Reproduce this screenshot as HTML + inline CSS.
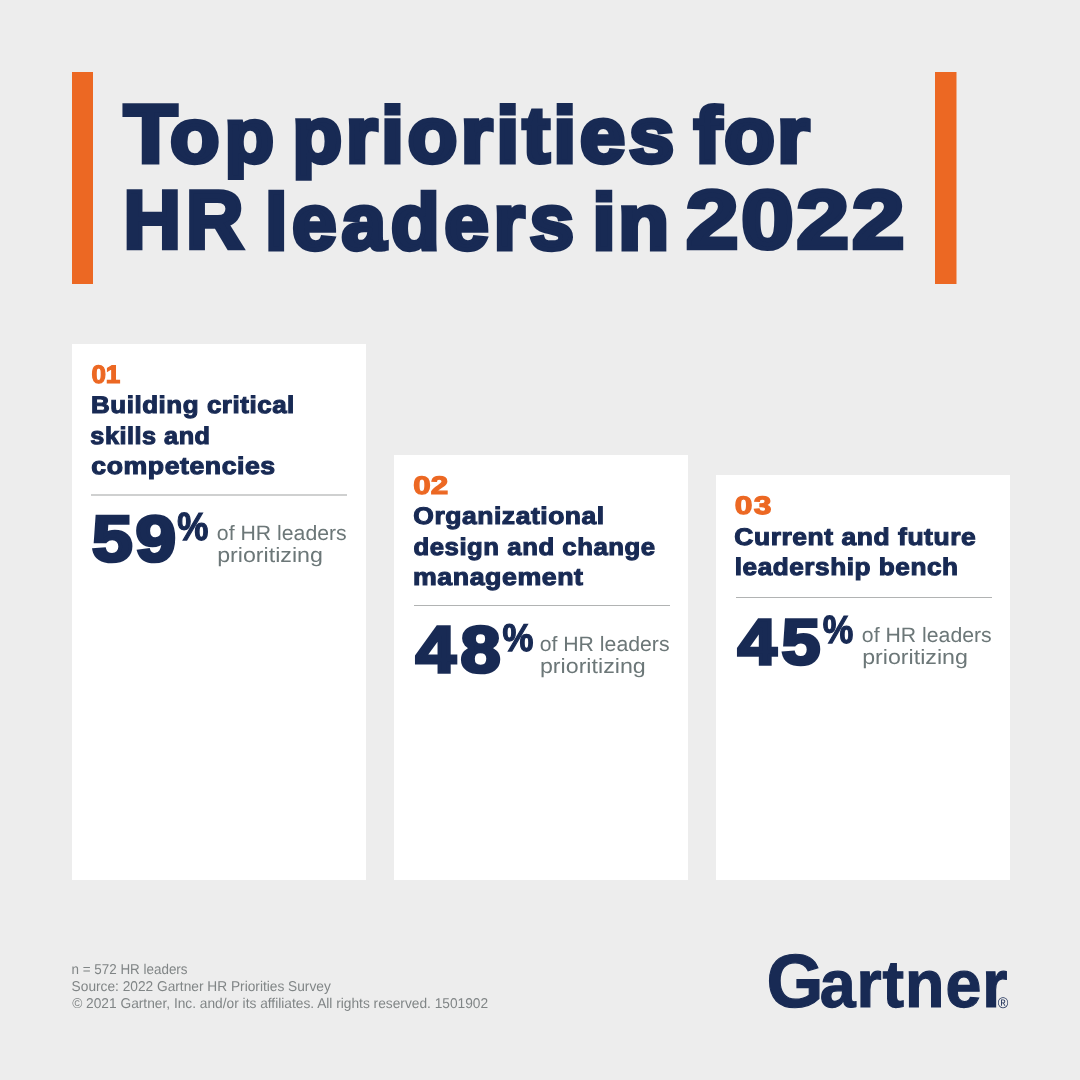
<!DOCTYPE html>
<html lang="en">
<head>
<meta charset="utf-8">
<title>Top priorities for HR leaders in 2022</title>
<style>
html,body{margin:0;padding:0;}
body{width:1080px;height:1080px;background:#ededed;position:relative;overflow:hidden;font-family:"Liberation Sans",sans-serif;}
h1,h2,p{margin:0;font-size:inherit;font-weight:inherit;}
.t{position:absolute;white-space:nowrap;line-height:1;transform-origin:0 0;font-family:"Liberation Sans",sans-serif;text-rendering:geometricPrecision;}
#t1w0::first-letter{font-size:82.01px;line-height:0;letter-spacing:-6.56px;}
#lg::first-letter{font-size:75.53px;line-height:0;letter-spacing:-3.89px;}
.bar{position:absolute;background:#ec6823;top:72px;height:212px;width:21px;}
.card{position:absolute;background:#fff;width:294px;}
.rule{position:absolute;height:1px;background:#b1b3b3;width:256px;}
</style>
</head>
<body>
<div class="bar" style="left:72px"></div>
<div class="bar" style="left:935px;width:22px;background:linear-gradient(to right,#ec6823 0,#ec6823 21px,#edab88 21px,#edab88 22px)"></div>
<header><h1><span id="t1w0" class="t" style="left:124px;top:99px;font-weight:700;font-size:75.72px;color:#182a54;transform:translate(0.06px,0.02px) scaleX(1.0602);-webkit-text-stroke:4.8px #182a54;letter-spacing:5.20px;">Top</span> <span id="t1w1" class="t" style="left:292px;top:95px;font-weight:700;font-size:78.27px;color:#182a54;transform:translate(0.57px,0.85px) scaleX(1.0355);-webkit-text-stroke:4.8px #182a54;letter-spacing:3.72px;">priorities</span> <span id="t1w2" class="t" style="left:694px;top:95px;font-weight:700;font-size:78.27px;color:#182a54;transform:translate(0.12px,0.85px) scaleX(1.0568);-webkit-text-stroke:4.8px #182a54;letter-spacing:2.46px;">for</span> <span id="t2w0" class="t" style="left:123px;top:180px;font-weight:700;font-size:82.22px;color:#182a54;transform:translate(0.55px,0.43px) scaleX(0.9673);-webkit-text-stroke:4.5px #182a54;letter-spacing:5.20px;">HR</span> <span id="t2w1" class="t" style="left:265px;top:182px;font-weight:700;font-size:78.33px;color:#182a54;transform:translate(0.18px,0.75px) scaleX(1.0128);-webkit-text-stroke:4.8px #182a54;letter-spacing:5.08px;">leaders</span> <span id="t2w2" class="t" style="left:592px;top:182px;font-weight:700;font-size:78.33px;color:#182a54;transform:translate(0.53px,0.75px) scaleX(1.0598);-webkit-text-stroke:4.8px #182a54;letter-spacing:2.47px;">in</span> <span id="t2w3" class="t" style="left:685px;top:179px;font-weight:700;font-size:82.50px;color:#182a54;transform:translate(0.90px,0.19px) scaleX(1.1425);-webkit-text-stroke:4.5px #182a54;letter-spacing:2.55px;">2022</span></h1></header>
<main>
<section class="card" id="card1" style="left:72px;top:344px;height:536px">
<div id="c1n" class="t" style="left:19px;top:19px;font-weight:700;font-size:25.39px;color:#ec6823;transform:translate(0.55px,0.18px) scaleX(1.0255);-webkit-text-stroke:1.2px #ec6823;letter-spacing:-0.36px;">01</div>
<h2><span id="c1h1" class="t" style="left:19px;top:50px;font-weight:700;font-size:24.07px;color:#182a54;transform:translate(0.07px,0.00px) scaleX(1.0782);-webkit-text-stroke:1.1px #182a54;letter-spacing:0.5px;">Building critical</span> <span id="c1h2" class="t" style="left:18px;top:80px;font-weight:700;font-size:24.07px;color:#182a54;transform:translate(0.33px,0.90px) scaleX(1.0482);-webkit-text-stroke:1.1px #182a54;letter-spacing:0.5px;">skills and</span> <span id="c1h3" class="t" style="left:19px;top:111px;font-weight:700;font-size:24.07px;color:#182a54;transform:translate(0.33px,0.30px) scaleX(1.1077);-webkit-text-stroke:1.1px #182a54;letter-spacing:0.5px;">competencies</span></h2>
<div class="rule" style="left:19px;top:150px;height:2px;background:#cfd0d0;"></div>
<p class="stat"><span id="c1b" class="t" style="left:20px;top:162px;font-weight:700;font-size:64.68px;color:#182a54;transform:translate(0.01px,0.81px) scaleX(1.1272);-webkit-text-stroke:3.4px #182a54;letter-spacing:2.66px;">59</span><span id="c1p" class="t" style="left:105px;top:164px;font-weight:700;font-size:39.18px;color:#182a54;transform:translate(0.37px,0.15px) scaleX(0.8933);-webkit-text-stroke:1.3px #182a54;">%</span> <span id="c1s1" class="t" style="left:144px;top:179px;font-weight:400;font-size:20.80px;color:#6c7778;transform:translate(0.87px,0.79px) scaleX(1.0213);">of HR leaders</span> <span id="c1s2" class="t" style="left:145px;top:201px;font-weight:400;font-size:20.80px;color:#6c7778;transform:translate(0.14px,0.55px) scaleX(1.1159);">prioritizing</span></p>
</section>
<section class="card" id="card2" style="left:394px;top:455px;height:425px">
<div id="c2n" class="t" style="left:19px;top:19px;font-weight:700;font-size:25.39px;color:#ec6823;transform:translate(0.35px,0.18px) scaleX(1.2372);-webkit-text-stroke:1.2px #ec6823;letter-spacing:-0.05px;">02</div>
<h2><span id="c2h1" class="t" style="left:19px;top:50px;font-weight:700;font-size:24.07px;color:#182a54;transform:translate(0.27px,0.10px) scaleX(1.0997);-webkit-text-stroke:1.1px #182a54;letter-spacing:0.5px;">Organizational</span> <span id="c2h2" class="t" style="left:19px;top:80px;font-weight:700;font-size:24.07px;color:#182a54;transform:translate(0.50px,0.60px) scaleX(1.0691);-webkit-text-stroke:1.1px #182a54;letter-spacing:0.5px;">design and change</span> <span id="c2h3" class="t" style="left:19px;top:111px;font-weight:700;font-size:24.07px;color:#182a54;transform:translate(0.02px,0.10px) scaleX(1.1110);-webkit-text-stroke:1.1px #182a54;letter-spacing:0.5px;">management</span></h2>
<div class="rule" style="left:20px;top:150px;"></div>
<p class="stat"><span id="c2b" class="t" style="left:21px;top:161px;font-weight:700;font-size:65.32px;color:#182a54;transform:translate(0.67px,0.72px) scaleX(1.1032);-webkit-text-stroke:3.4px #182a54;letter-spacing:4.35px;">48</span><span id="c2p" class="t" style="left:108px;top:164px;font-weight:700;font-size:38.75px;color:#182a54;transform:translate(0.48px,0.86px) scaleX(0.8963);-webkit-text-stroke:1.3px #182a54;">%</span> <span id="c2s1" class="t" style="left:145px;top:179px;font-weight:400;font-size:20.80px;color:#6c7778;transform:translate(0.67px,0.79px) scaleX(1.0213);">of HR leaders</span> <span id="c2s2" class="t" style="left:145px;top:201px;font-weight:400;font-size:20.80px;color:#6c7778;transform:translate(0.94px,0.55px) scaleX(1.1159);">prioritizing</span></p>
</section>
<section class="card" id="card3" style="left:716px;top:475px;height:405px">
<div id="c3n" class="t" style="left:18px;top:19px;font-weight:700;font-size:25.39px;color:#ec6823;transform:translate(0.65px,0.28px) scaleX(1.2516);-webkit-text-stroke:1.2px #ec6823;letter-spacing:1.10px;">03</div>
<h2><span id="c3h1" class="t" style="left:18px;top:50px;font-weight:700;font-size:24.07px;color:#182a54;transform:translate(0.37px,0.80px) scaleX(1.0983);-webkit-text-stroke:1.1px #182a54;letter-spacing:0.5px;">Current and future</span> <span id="c3h2" class="t" style="left:18px;top:81px;font-weight:700;font-size:24.07px;color:#182a54;transform:translate(0.79px,0.30px) scaleX(1.0866);-webkit-text-stroke:1.1px #182a54;letter-spacing:0.5px;">leadership bench</span></h2>
<div class="rule" style="left:20px;top:122px;"></div>
<p class="stat"><span id="c3b" class="t" style="left:21px;top:134px;font-weight:700;font-size:64.16px;color:#182a54;transform:translate(0.68px,0.83px) scaleX(1.0892);-webkit-text-stroke:3.4px #182a54;letter-spacing:4.58px;">45</span><span id="c3p" class="t" style="left:106px;top:135px;font-weight:700;font-size:39.18px;color:#182a54;transform:translate(0.68px,0.85px) scaleX(0.8757);-webkit-text-stroke:1.3px #182a54;">%</span> <span id="c3s1" class="t" style="left:145px;top:151px;font-weight:400;font-size:20.80px;color:#6c7778;transform:translate(0.87px,0.15px) scaleX(1.0213);">of HR leaders</span> <span id="c3s2" class="t" style="left:146px;top:173px;font-weight:400;font-size:20.80px;color:#6c7778;transform:translate(0.14px,0.25px) scaleX(1.1159);">prioritizing</span></p>
</section>
</main>
<footer>
<p id="f1" class="t" style="left:71px;top:962px;font-weight:400;font-size:14.34px;color:#808586;transform:translate(0.56px,0.73px) scaleX(0.9362);">n = 572 HR leaders</p>
<p id="f2" class="t" style="left:71px;top:979px;font-weight:400;font-size:14.16px;color:#808586;transform:translate(0.61px,0.83px) scaleX(0.9688);">Source: 2022 Gartner HR Priorities Survey</p>
<p id="f3" class="t" style="left:72px;top:996px;font-weight:400;font-size:14.16px;color:#808586;transform:translate(0.15px,0.83px) scaleX(0.9701);">© 2021 Gartner, Inc. and/or its affiliates. All rights reserved. 1501902</p>
<div class="logo"><div id="lg" class="t" style="left:766px;top:951px;font-weight:700;font-size:66.53px;color:#182a54;transform:translate(0.55px,0.67px) scaleX(0.9693);-webkit-text-stroke:1.2px #182a54;letter-spacing:1.00px;">Gartner</div><span id="rg" class="t" style="left:997px;top:996px;font-weight:400;font-size:15.42px;color:#182a54;transform:translate(0.82px,0.49px) scaleX(0.9296);">®</span></div>
</footer>
</body>
</html>
